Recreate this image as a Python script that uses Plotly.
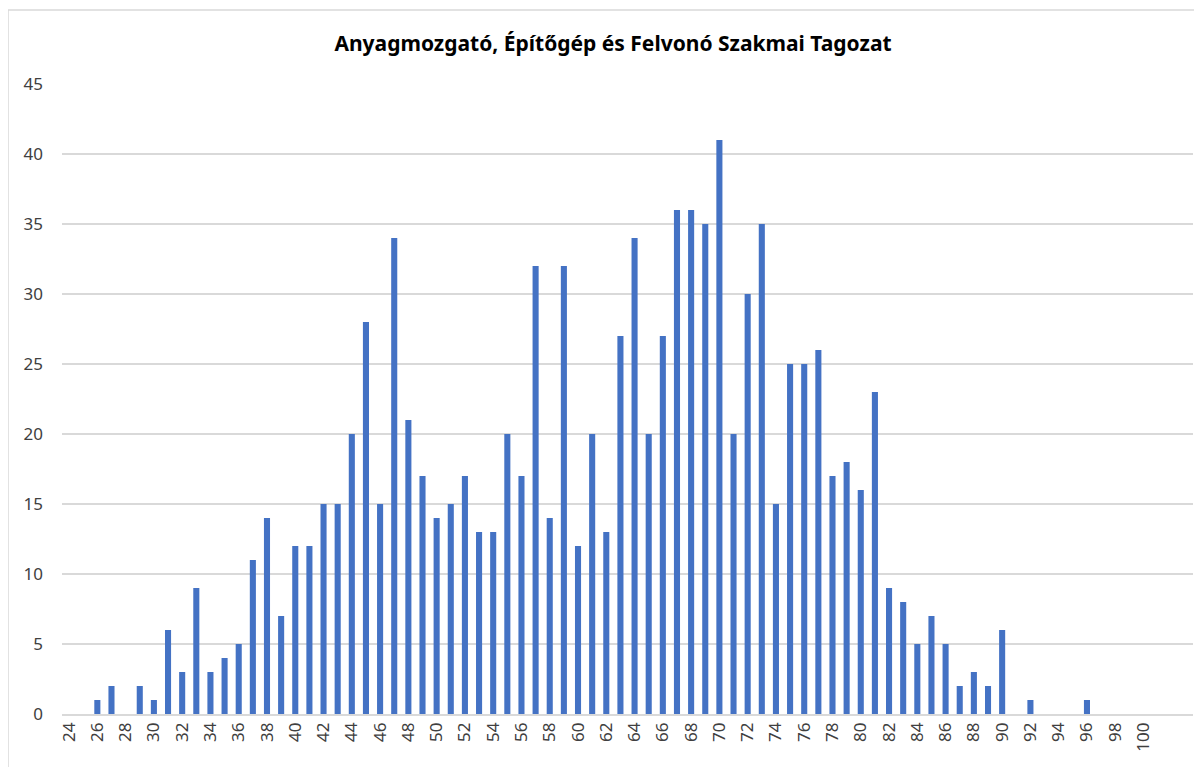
import plotly.graph_objects as go

# Data
scores = list(range(24, 104))  # categories 24..103
counts_by_score = {
    26: 1, 27: 2, 29: 2, 30: 1, 31: 6, 32: 3, 33: 9, 34: 3, 35: 4, 36: 5,
    37: 11, 38: 14, 39: 7, 40: 12, 41: 12, 42: 15, 43: 15, 44: 20, 45: 28,
    46: 15, 47: 34, 48: 21, 49: 17, 50: 14, 51: 15, 52: 17, 53: 13, 54: 13,
    55: 20, 56: 17, 57: 32, 58: 14, 59: 32, 60: 12, 61: 20, 62: 13, 63: 27,
    64: 34, 65: 20, 66: 27, 67: 36, 68: 36, 69: 35, 70: 41, 71: 20, 72: 30,
    73: 35, 74: 15, 75: 25, 76: 25, 77: 26, 78: 17, 79: 18, 80: 16, 81: 23,
    82: 9, 83: 8, 84: 5, 85: 7, 86: 5, 87: 2, 88: 3, 89: 2, 90: 6, 92: 1, 96: 1,
}
counts = [counts_by_score.get(s, 0) for s in scores]
x_tick_labels = list(range(24, 101, 2))
y_ticks = list(range(0, 46, 5))
title = "Anyagmozgató, Építőgép és Felvonó Szakmai Tagozat"

OFF = 8  # page body margin offset
W, H = 1202 - OFF, 767 - OFF
L, R, T, B = 62 - OFF, 1193 - OFF, 84 - OFF, 714 - OFF

fig = go.Figure(go.Bar(x=scores, y=counts, marker_color="#4472C4",
                       marker_line_width=0, width=0.43))

pw = R - L
ph = B - T

def px_to_paper_x(px):
    return (px - OFF - L) / pw

def px_to_paper_y(py):
    return (B - (py - OFF)) / ph

fig.update_layout(
    width=W, height=H,
    margin=dict(l=L, r=W - R, t=T, b=H - B, pad=0),
    paper_bgcolor="white", plot_bgcolor="white",
    showlegend=False,
    title=dict(text="<b>" + title + "</b>", x=(613 - OFF) / W, xanchor="center",
               y=1 - (44 - OFF) / H, yanchor="middle",
               font=dict(family="Noto Sans", size=21, color="#000000")),
    font=dict(family="Noto Sans", size=17, color="#595959"),
    xaxis=dict(range=[23.5, 103.5], tickmode="array", tickvals=x_tick_labels,
               ticktext=[str(v) for v in x_tick_labels], tickangle=-90,
               showgrid=False, zeroline=False, showline=True, linecolor="#D9D9D9",
               linewidth=1.5, ticks="", ticklen=0,
               tickfont=dict(family="Noto Sans", size=17, color="#404040")),
    yaxis=dict(range=[0, 45], tickmode="array", tickvals=y_ticks,
               showgrid=True, gridcolor="#D9D9D9", gridwidth=1.5,
               zeroline=False, showline=False, ticks="", ticklabelstandoff=18,
               tickfont=dict(family="Noto Sans", size=17, color="#404040")),
    shapes=[dict(type="rect", xref="paper", yref="paper",
                 x0=px_to_paper_x(8), x1=px_to_paper_x(1210),
                 y0=px_to_paper_y(780), y1=px_to_paper_y(10),
                 line=dict(color="#D9D9D9", width=1.5), layer="below")],
)

fig.write_html("out.html")
